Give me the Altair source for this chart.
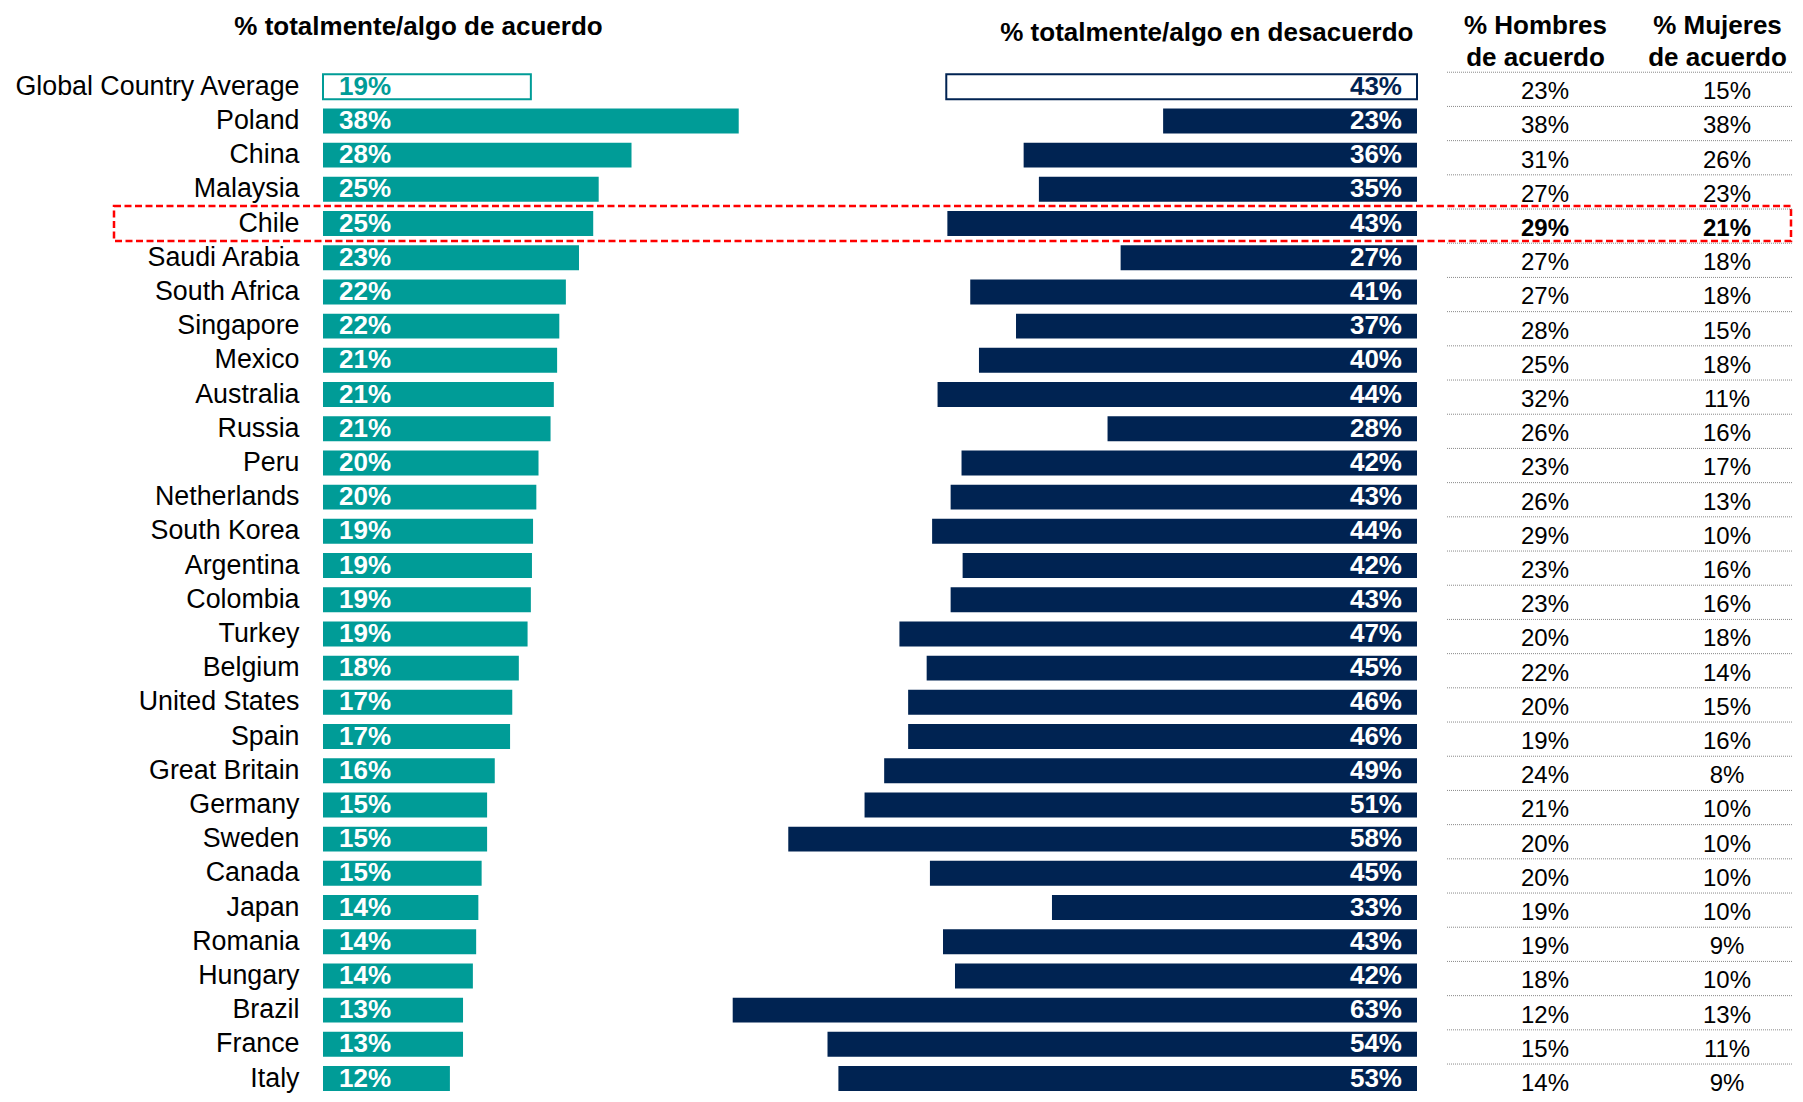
import altair as alt
import pandas as pd

countries = ["Global Country Average", "Poland", "China", "Malaysia", "Chile", "Saudi Arabia",
             "South Africa", "Singapore", "Mexico", "Australia", "Russia", "Peru", "Netherlands",
             "South Korea", "Argentina", "Colombia", "Turkey", "Belgium", "United States", "Spain",
             "Great Britain", "Germany", "Sweden", "Canada", "Japan", "Romania", "Hungary",
             "Brazil", "France", "Italy"]
# printed (rounded) values
agree_label = [19, 38, 28, 25, 25, 23, 22, 22, 21, 21, 21, 20, 20, 19, 19, 19, 19, 18, 17, 17,
               16, 15, 15, 15, 14, 14, 14, 13, 13, 12]
disagree_label = [43, 23, 36, 35, 43, 27, 41, 37, 40, 44, 28, 42, 43, 44, 42, 43, 47, 45, 46, 46,
                  49, 51, 58, 45, 33, 43, 42, 63, 54, 53]
# bar lengths (unrounded)
agree_bar = [19.0, 38.0, 28.2, 25.2, 24.7, 23.4, 22.2, 21.6, 21.4, 21.1, 20.8, 19.7, 19.5, 19.2,
             19.1, 19.0, 18.7, 17.9, 17.3, 17.1, 15.7, 15.0, 15.0, 14.5, 14.2, 14.0, 13.7, 12.8,
             12.8, 11.6]
disagree_bar = [43.2, 23.3, 36.1, 34.7, 43.1, 27.2, 41.0, 36.8, 40.2, 44.0, 28.4, 41.8, 42.8, 44.5,
                41.7, 42.8, 47.5, 45.0, 46.7, 46.7, 48.9, 50.7, 57.7, 44.7, 33.5, 43.5, 42.4, 62.8,
                54.1, 53.1]
men_agree = [23, 38, 31, 27, 29, 27, 27, 28, 25, 32, 26, 23, 26, 29, 23, 23, 20, 22, 20, 19, 24,
             21, 20, 20, 19, 19, 18, 12, 15, 14]
women_agree = [15, 38, 26, 23, 21, 18, 18, 15, 18, 11, 16, 17, 13, 10, 16, 16, 18, 14, 15, 16, 8,
               10, 10, 10, 10, 9, 10, 13, 11, 9]
table_headers = ["% Hombres\nde acuerdo", "% Mujeres\nde acuerdo"]
title_agree = "% totalmente/algo de acuerdo"
title_disagree = "% totalmente/algo en desacuerdo"

GLOBAL = "Global Country Average"
HIGHLIGHT = "Chile"
TEAL = "#009C97"
NAVY = "#002352"
RED = "#FF0000"
FONT = "Liberation Sans"

STEP = 34.2
H = STEP * len(countries)
W_BARS = 1094
W_TABLE = 345

df = pd.DataFrame({
    "country": countries,
    "agree": agree_bar,
    "agree_txt": [f"{v}%" for v in agree_label],
    "disagree": disagree_bar,
    "disagree_txt": [f"{v}%" for v in disagree_label],
})

rows = []
for c, m, w in zip(countries, men_agree, women_agree):
    rows.append({"country": c, "col": table_headers[0], "txt": f"{m}%"})
    rows.append({"country": c, "col": table_headers[1], "txt": f"{w}%"})
tdf = pd.DataFrame(rows)

is_global = f"datum.country === '{GLOBAL}'"
y_scale = alt.Scale(domain=countries, paddingInner=0.27, paddingOuter=0.135, align=1)

y_ab = alt.Y("country:N", scale=y_scale,
             axis=alt.Axis(title=None, ticks=False, domain=False, grid=False,
                           labelFont=FONT, labelFontSize=26.8, labelColor="#000000",
                           labelPadding=24, labelLimit=600))
base = alt.Chart(df).encode(y=y_ab)

# ---- agree (teal) ----
teal_scale = alt.Scale(domain=[0, 100], nice=False, zero=True)
teal_axis = alt.Axis(orient="top", title=title_agree, labels=False, ticks=False,
                     domain=False, grid=False, titleFont=FONT, titleFontSize=26,
                     titleFontWeight="bold", titleColor="#000000", titleX=95,
                     titleY=-30.8, titleAlign="center", titleBaseline="alphabetic")
teal_bars = base.mark_bar(stroke=TEAL).encode(
    x=alt.X("agree:Q", scale=teal_scale, axis=teal_axis, title=title_agree),
    fill=alt.condition(is_global, alt.value("white"), alt.value(TEAL)),
    strokeWidth=alt.condition(is_global, alt.value(2), alt.value(0)),
)
teal_text = base.mark_text(align="left", baseline="middle", dx=16, font=FONT, fontSize=26,
                           fontWeight="bold").encode(
    x=alt.X(datum=0, scale=teal_scale, axis=teal_axis, title=title_agree),
    text="agree_txt:N",
    color=alt.condition(is_global, alt.value(TEAL), alt.value("white")),
)
box = base.transform_filter(f"datum.country === '{HIGHLIGHT}'").mark_bar(
    height=35, fillOpacity=0, stroke=RED, strokeWidth=2.5, strokeDash=[7, 3.5]
).encode(x=alt.value(-209), x2=alt.value(1468))

# ---- disagree (navy) ----
navy_scale = alt.Scale(domain=[0, 100.4], nice=False, zero=True, reverse=True)
navy_axis = alt.Axis(orient="top", title=title_disagree, labels=False, ticks=False,
                     domain=False, grid=False, titleFont=FONT, titleFontSize=26,
                     titleFontWeight="bold", titleColor="#000000", titleX=1090,
                     titleY=-24.8, titleAlign="right", titleBaseline="alphabetic")
navy_bars = base.mark_bar(stroke=NAVY).encode(
    x=alt.X("disagree:Q", scale=navy_scale, axis=navy_axis, title=title_disagree),
    fill=alt.condition(is_global, alt.value("white"), alt.value(NAVY)),
    strokeWidth=alt.condition(is_global, alt.value(2), alt.value(0)),
)
navy_text = base.mark_text(align="right", baseline="middle", dx=-15, font=FONT, fontSize=26,
                           fontWeight="bold").encode(
    x=alt.X(datum=0, scale=navy_scale, axis=navy_axis, title=title_disagree),
    text="disagree_txt:N",
    color=alt.condition(is_global, alt.value(NAVY), alt.value("white")),
)

bars_panel = alt.layer(
    alt.layer(teal_bars, teal_text, box),
    alt.layer(navy_bars, navy_text),
).resolve_scale(x="independent").properties(width=W_BARS, height=H)

# ---- table ----
x_tab = alt.X("col:N",
              scale=alt.Scale(type="point", domain=table_headers, range=[98, 280], padding=0),
              axis=alt.Axis(orient="top", title=None, ticks=False, domain=False, grid=False,
                            labelAngle=0, labelFont=FONT, labelFontSize=26,
                            labelFontWeight="bold", labelColor="#000000", labelLineHeight=32,
                            labelPadding=26.6, labelOffset=-10, labelLimit=400,
                            labelExpr="split(datum.label, '\\n')"))
y_tab = alt.Y("country:N", scale=y_scale, axis=None)

rules = alt.Chart(df).mark_rule(color="#8a8a8a", strokeWidth=1, strokeDash=[1, 1],
                                yOffset=-2).encode(
    y=alt.Y("country:N", scale=y_scale, axis=None, bandPosition=0))
tab_reg = alt.Chart(tdf).transform_filter(f"datum.country !== '{HIGHLIGHT}'").mark_text(
    font=FONT, fontSize=24, baseline="middle", dy=5.5, color="#000000").encode(
    x=x_tab, y=y_tab, text="txt:N")
tab_bold = alt.Chart(tdf).transform_filter(f"datum.country === '{HIGHLIGHT}'").mark_text(
    font=FONT, fontSize=24, fontWeight="bold", baseline="middle", dy=5.5,
    color="#000000").encode(x=x_tab, y=y_tab, text="txt:N")

table_panel = alt.layer(rules, tab_reg, tab_bold).properties(width=W_TABLE, height=H)

chart = alt.hconcat(bars_panel, table_panel, spacing=30, bounds="flush").properties(
    padding={"left": 5, "top": 4, "right": 0, "bottom": 0}
).configure(font=FONT, background="white").configure_view(stroke=None)

chart.save("out.html", embed_options={"renderer": "svg", "actions": False})
